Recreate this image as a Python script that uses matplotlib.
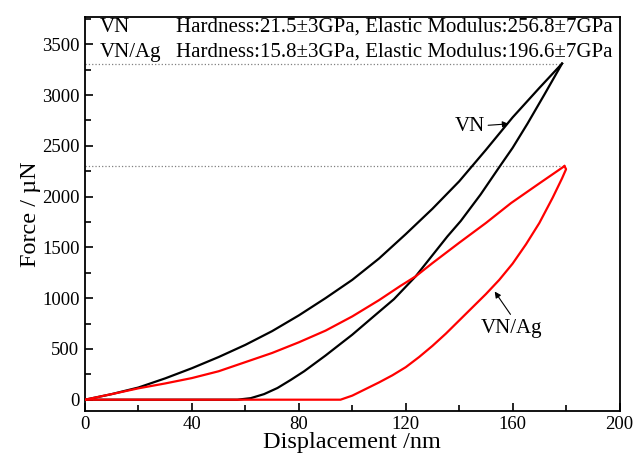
"""
Nanoindentation load-displacement curves for VN and VN/Ag coatings.
"""

import matplotlib.pyplot as plt
from matplotlib.ticker import MultipleLocator

plt.rcParams["font.family"] = ["Liberation Serif", "DejaVu Serif"]

# VN: loading branch
vn_load_x = [0, 10, 20, 30, 40, 50, 60, 70, 80, 90, 100, 110, 120, 130,
             140, 150, 160, 170, 178.5]
vn_load_f = [0, 55, 120, 210, 310, 420, 540, 675, 830, 1000, 1180, 1390,
             1630, 1880, 2150, 2460, 2780, 3070, 3310]

# VN: unloading branch (from peak downwards)
vn_unload_x = [178.5, 172, 165.6, 160, 155, 148, 140.6, 135.6, 123.7, 115.6,
               108, 100, 95.6, 90, 82, 77, 72, 67, 62, 57, 0]
vn_unload_f = [3310, 3010, 2720, 2480, 2290, 2020, 1760, 1608, 1214, 990,
               820, 640, 550, 435, 280, 195, 115, 55, 15, 0, 0]

# VN/Ag: loading branch
ag_load_x = [0, 10, 20, 30, 40, 50, 60, 70, 80, 90, 100, 110, 118, 123.7,
             130, 140, 150, 159.4, 170, 179.4]
ag_load_f = [0, 55, 112, 160, 213, 280, 370, 460, 565, 680, 820, 980, 1120,
             1214, 1345, 1545, 1740, 1936, 2130, 2300]

# VN/Ag: unloading branch (from peak downwards)
ag_unload_x = [179.4, 180, 178.5, 175, 170, 165, 160, 155, 150, 145, 140,
               135, 130, 125, 120, 115, 110, 105, 100, 95.6, 0]
ag_unload_f = [2300, 2270, 2180, 1990, 1740, 1530, 1340, 1180, 1040, 910,
               780, 650, 530, 420, 320, 240, 170, 105, 40, 0, 0]

vn_peak = (178.5, 3310)
ag_peak = (179.4, 2300)

header_names = ["VN", "VN/Ag"]
header_props = ["Hardness:21.5\u00b13GPa, Elastic Modulus:256.8\u00b17GPa",
                "Hardness:15.8\u00b13GPa, Elastic Modulus:196.6\u00b17GPa"]
header_y = [3665, 3420]


def main():
    fig = plt.figure(figsize=(6.44, 4.55), dpi=100)
    ax = fig.add_axes([0.132, 0.097, 0.830, 0.866])

    # reference levels at the peak loads
    ax.plot([0, vn_peak[0]], [vn_peak[1], vn_peak[1]], color="gray",
            linestyle=":", linewidth=0.9, zorder=1)
    ax.plot([0, ag_peak[0]], [ag_peak[1], ag_peak[1]], color="gray",
            linestyle=":", linewidth=0.9, zorder=1)

    ax.plot(vn_load_x, vn_load_f, color="black", linewidth=1.6, zorder=2)
    ax.plot(vn_unload_x, vn_unload_f, color="black", linewidth=1.6, zorder=2)
    ax.plot(ag_load_x, ag_load_f, color="red", linewidth=1.6, zorder=3)
    ax.plot(ag_unload_x, ag_unload_f, color="red", linewidth=1.6, zorder=3)

    for name, props, y in zip(header_names, header_props, header_y):
        ax.text(5.6, y, name, fontsize=15, va="center", ha="left")
        ax.text(34.0, y, props, fontsize=15, va="center", ha="left")

    # curve labels with arrows
    ax.annotate("VN", xy=(158.5, 2716), xytext=(149.8, 2690),
                fontsize=15, ha="right", va="center",
                arrowprops=dict(arrowstyle="-|>", color="black", lw=0.8,
                                mutation_scale=9, shrinkA=0, shrinkB=0))
    ax.annotate("", xy=(153.3, 1065), xytext=(159.2, 840),
                arrowprops=dict(arrowstyle="-|>", color="black", lw=0.8,
                                mutation_scale=9, shrinkA=0, shrinkB=0))
    ax.text(159.5, 700, "VN/Ag", fontsize=15, ha="center", va="center")

    ax.set_xlim(0, 200)
    ax.set_ylim(-110, 3770)
    ax.xaxis.set_major_locator(MultipleLocator(40))
    ax.xaxis.set_minor_locator(MultipleLocator(20))
    ax.yaxis.set_major_locator(MultipleLocator(500))
    ax.yaxis.set_minor_locator(MultipleLocator(250))
    ax.tick_params(which="both", direction="in", top=False, right=False,
                   labelsize=13.5, width=1.2)
    ax.tick_params(which="major", length=6, pad=4)
    ax.tick_params(which="minor", length=4)
    for sp in ax.spines.values():
        sp.set_linewidth(1.3)

    ax.set_xlabel("Displacement /nm", fontsize=17.5, labelpad=-1)
    ax.set_ylabel("Force / \u00b5N", fontsize=17.5, labelpad=1)

    fig.savefig("out.png", dpi=100)
    plt.close(fig)


if __name__ == "__main__":
    main()
